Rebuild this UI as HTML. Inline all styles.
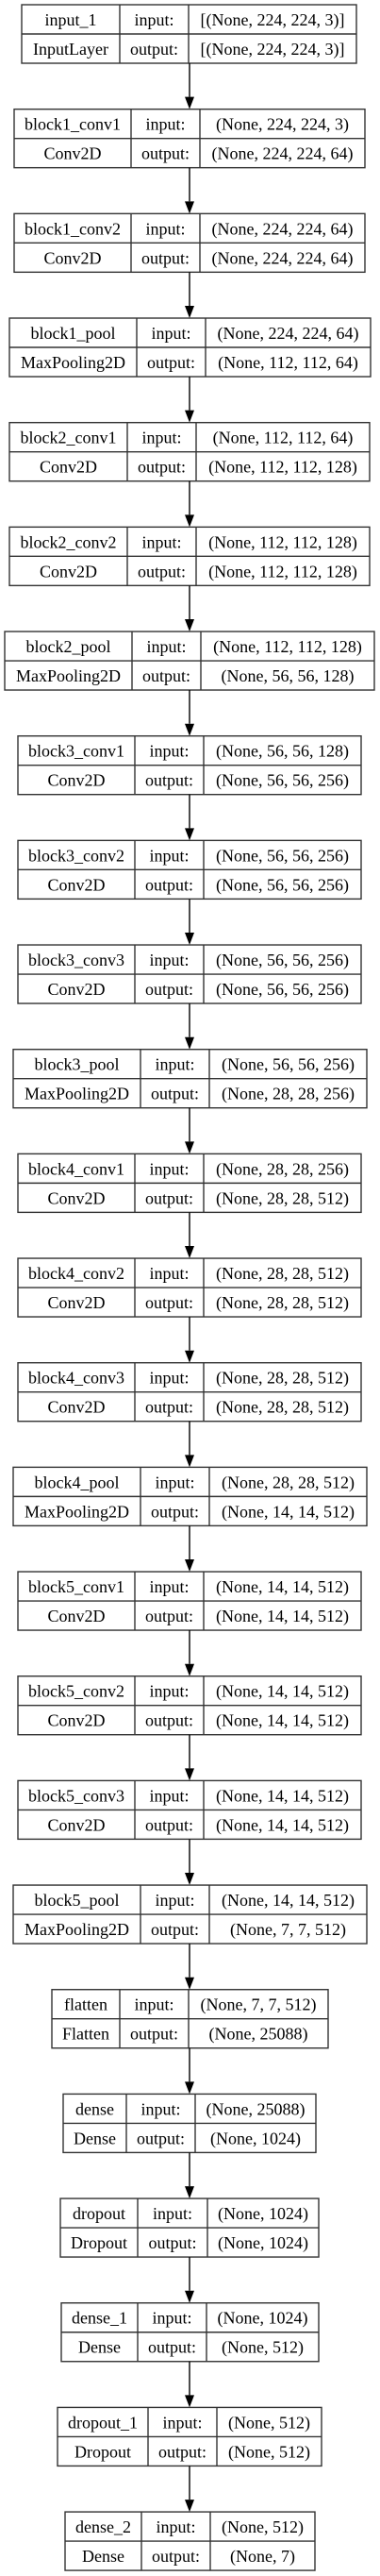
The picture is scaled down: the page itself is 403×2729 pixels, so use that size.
<!DOCTYPE html>
<html><head><meta charset="utf-8"><style>html,body{margin:0;padding:0;background:#fff}svg{display:block}</style></head>
<body>
<svg id="s" width="403" height="2729" xmlns="http://www.w3.org/2000/svg" font-family="Liberation Serif, serif" font-size="18">
<rect width="403" height="2729" fill="#fff"/>
<g id="g"></g>
</svg>
<script>
var nodes=[
["input_1","InputLayer","[(None, 224, 224, 3)]","[(None, 224, 224, 3)]",23,127,200,378],
["block1_conv1","Conv2D","(None, 224, 224, 3)","(None, 224, 224, 64)",15,139,212,387],
["block1_conv2","Conv2D","(None, 224, 224, 64)","(None, 224, 224, 64)",15,139,212,387],
["block1_pool","MaxPooling2D","(None, 224, 224, 64)","(None, 112, 112, 64)",10,145,218,393],
["block2_conv1","Conv2D","(None, 112, 112, 64)","(None, 112, 112, 128)",10,135,208,392],
["block2_conv2","Conv2D","(None, 112, 112, 128)","(None, 112, 112, 128)",10,135,208,392],
["block2_pool","MaxPooling2D","(None, 112, 112, 128)","(None, 56, 56, 128)",5,140,213,397],
["block3_conv1","Conv2D","(None, 56, 56, 128)","(None, 56, 56, 256)",19,143,216,383],
["block3_conv2","Conv2D","(None, 56, 56, 256)","(None, 56, 56, 256)",19,143,216,383],
["block3_conv3","Conv2D","(None, 56, 56, 256)","(None, 56, 56, 256)",19,143,216,383],
["block3_pool","MaxPooling2D","(None, 56, 56, 256)","(None, 28, 28, 256)",14,149,222,389],
["block4_conv1","Conv2D","(None, 28, 28, 256)","(None, 28, 28, 512)",19,143,216,383],
["block4_conv2","Conv2D","(None, 28, 28, 512)","(None, 28, 28, 512)",19,143,216,383],
["block4_conv3","Conv2D","(None, 28, 28, 512)","(None, 28, 28, 512)",19,143,216,383],
["block4_pool","MaxPooling2D","(None, 28, 28, 512)","(None, 14, 14, 512)",14,149,222,389],
["block5_conv1","Conv2D","(None, 14, 14, 512)","(None, 14, 14, 512)",19,143,216,383],
["block5_conv2","Conv2D","(None, 14, 14, 512)","(None, 14, 14, 512)",19,143,216,383],
["block5_conv3","Conv2D","(None, 14, 14, 512)","(None, 14, 14, 512)",19,143,216,383],
["block5_pool","MaxPooling2D","(None, 14, 14, 512)","(None, 7, 7, 512)",14,149,222,389],
["flatten","Flatten","(None, 7, 7, 512)","(None, 25088)",55,127,200,348],
["dense","Dense","(None, 25088)","(None, 1024)",67,134,207,335],
["dropout","Dropout","(None, 1024)","(None, 1024)",64,146,220,338],
["dense_1","Dense","(None, 1024)","(None, 512)",65,146,219,338],
["dropout_1","Dropout","(None, 512)","(None, 512)",61,157,230,341],
["dense_2","Dense","(None, 512)","(None, 7)",69,150,223,334]];
var h="",H=62,P=110.67;
function t(x,y,s){return '<text x="'+x+'" y="'+y+'" text-anchor="middle" fill="#000">'+s+'</text>';}
nodes.forEach(function(n,i){
 var y=5+i*P,a=n[4],b=n[5],c=n[6],d=n[7],m=y+H/2;
 h+='<rect x="'+a+'" y="'+y+'" width="'+(d-a)+'" height="'+H+'" fill="none" stroke="#333" stroke-width="1.4"/>';
 h+='<line x1="'+a+'" y1="'+m+'" x2="'+d+'" y2="'+m+'" stroke="#333" stroke-width="1.4"/>';
 h+='<line x1="'+b+'" y1="'+y+'" x2="'+b+'" y2="'+(y+H)+'" stroke="#333" stroke-width="1.4"/>';
 h+='<line x1="'+c+'" y1="'+y+'" x2="'+c+'" y2="'+(y+H)+'" stroke="#333" stroke-width="1.4"/>';
 h+=t((a+b)/2,y+22,n[0])+t((b+c)/2,y+22,"input:")+t((c+d)/2,y+22,n[2]);
 h+=t((a+b)/2,y+53,n[1])+t((b+c)/2,y+53,"output:")+t((c+d)/2,y+53,n[3]);
 if(i<nodes.length-1){var y1=y+H,y2=5+(i+1)*P;
  h+='<line x1="201" y1="'+y1+'" x2="201" y2="'+(y2-13)+'" stroke="#000" stroke-width="1.4"/>';
  h+='<polygon points="196,'+(y2-13)+' 206,'+(y2-13)+' 201,'+y2+'" fill="#000"/>';}
});
document.getElementById("g").innerHTML=h;
</script>
</body></html>
